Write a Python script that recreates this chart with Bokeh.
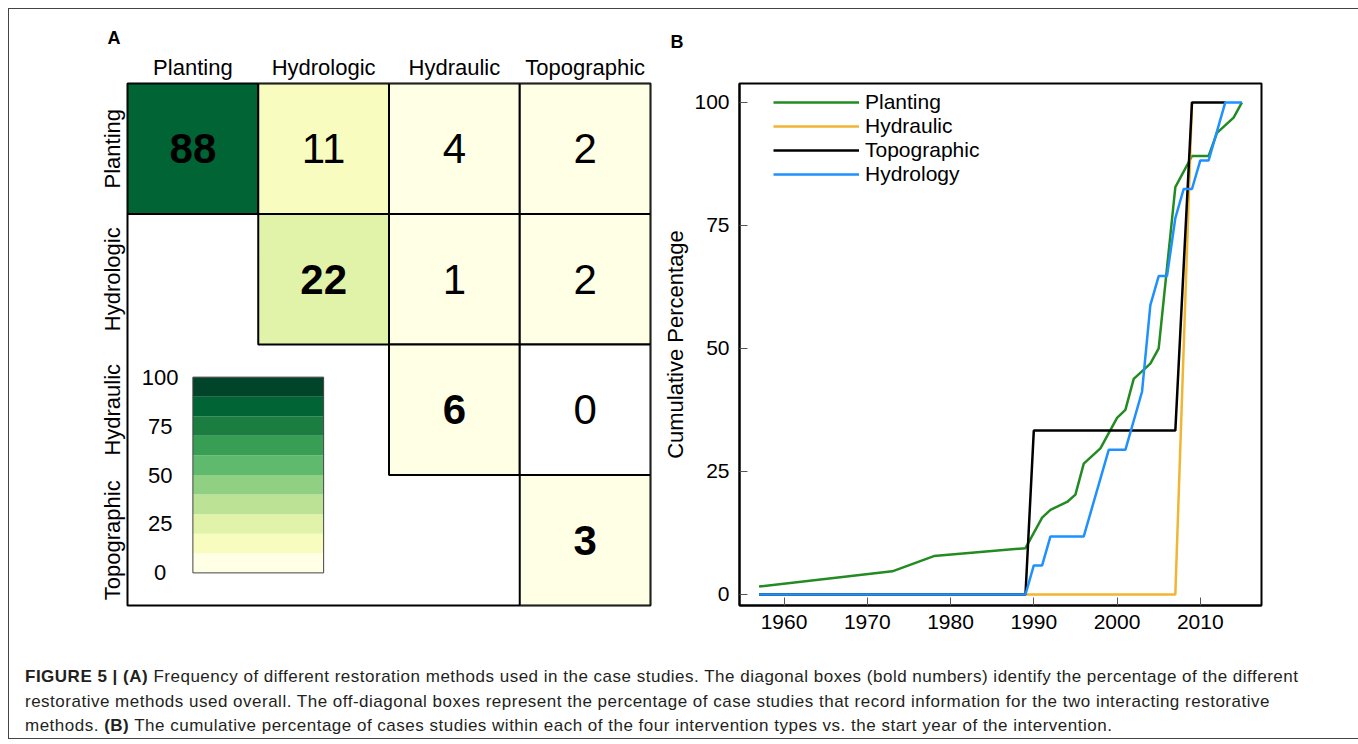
from bokeh.plotting import figure
from bokeh.models import (Range1d, FixedTicker, ColumnDataSource, LinearColorMapper, Div)
from bokeh.layouts import row, column
from bokeh.core.properties import value
from bokeh.embed import file_html
from bokeh.resources import INLINE

# ---------------- data ----------------
methods = ["Planting", "Hydrologic", "Hydraulic", "Topographic"]
cell_row = [0, 0, 0, 0, 1, 1, 1, 2, 2, 3]
cell_col = [0, 1, 2, 3, 1, 2, 3, 2, 3, 3]
cell_pct = [88, 11, 4, 2, 22, 1, 2, 6, 0, 3]

palette = ["#ffffe5", "#f8fcbe", "#e0f3a8", "#bce395", "#90d082",
           "#60ba6d", "#379e54", "#1b7e40", "#006435", "#004529"]
cbar_ticks = [0, 25, 50, 75, 100]

planting_year = [1957, 1973, 1978, 1989, 1991, 1992, 1994, 1995, 1996, 1998, 2000,
                 2001, 2002, 2004, 2005, 2007, 2009, 2011, 2012, 2014, 2015]
planting_pct = [1.6, 4.7, 7.8, 9.4, 15.6, 17.2, 18.8, 20.3, 26.6, 29.7, 35.9,
                37.5, 43.8, 46.9, 50.0, 82.8, 89.1, 89.1, 93.8, 96.9, 100]
hydraulic_year = [1957, 1989, 2007, 2009]
hydraulic_pct = [0, 0, 0, 100]
topographic_year = [1957, 1989, 1990, 2007, 2009, 2013]
topographic_pct = [0, 0, 33.3, 33.3, 100, 100]
hydrology_year = [1957, 1989, 1990, 1991, 1992, 1996, 1999, 2001, 2003, 2004, 2005,
                  2006, 2007, 2008, 2009, 2010, 2011, 2013, 2015]
hydrology_pct = [0, 0, 5.9, 5.9, 11.8, 11.8, 29.4, 29.4, 41.2, 58.8, 64.7,
                 64.7, 76.5, 82.4, 82.4, 88.2, 88.2, 100, 100]
year_ticks = [1960, 1970, 1980, 1990, 2000, 2010]
pct_ticks = [0, 25, 50, 75, 100]

FONT = "Liberation Sans"

# ---------------- panel A ----------------
pA = figure(frame_width=523, frame_height=522, min_border_left=118, min_border_right=10,
            min_border_top=74, min_border_bottom=36,
            x_range=Range1d(0, 4), y_range=Range1d(4, 0),
            x_axis_location="above", y_axis_location="left",
            output_backend="svg", toolbar_location=None, tools="")
pA.grid.visible = False
pA.outline_line_color = "black"
pA.outline_line_width = 2
centers = [i + 0.5 for i in range(len(methods))]
for ax in (pA.xaxis[0], pA.yaxis[0]):
    ax.ticker = FixedTicker(ticks=centers)
    ax.major_label_overrides = {c: m for c, m in zip(centers, methods)}
    ax.axis_line_color = None
    ax.major_tick_line_color = None
    ax.minor_tick_line_color = None
    ax.major_tick_in = 0
    ax.major_tick_out = 0
    ax.major_label_text_font = FONT
    ax.major_label_text_font_size = "22px"
    ax.major_label_text_color = "black"
pA.xaxis.major_label_standoff = 4
pA.yaxis.major_label_standoff = 3
pA.yaxis.major_label_orientation = "vertical"

pA.title.text = "A"
pA.title.text_font = FONT
pA.title.text_font_style = "bold"
pA.title.text_font_size = "18px"
pA.title.text_color = "black"
pA.title.align = "left"
pA.title.offset = -20
pA.title.standoff = 8

mapper = LinearColorMapper(palette=palette, low=0.5, high=100, low_color="white")
src = ColumnDataSource(dict(
    x=[c + 0.5 for c in cell_col],
    y=[r + 0.5 for r in cell_row],
    pct=cell_pct,
    label=[str(v) for v in cell_pct],
    style=["bold" if r == c else "normal" for r, c in zip(cell_row, cell_col)],
))
pA.rect("x", "y", 1, 1, source=src, fill_color={"field": "pct", "transform": mapper},
        line_color="black", line_width=2)
pA.text("x", "y", text="label", source=src, text_font=value(FONT), text_font_size="42px",
        text_font_style="style", text_align="center", text_baseline="middle",
        text_color="black")

# colour key
cb_left, cb_right, cb_bottom, cb_top = 0.5, 1.5, 3.75, 2.25


def vy(v):
    return cb_bottom + (cb_top - cb_bottom) * v / 100.0


n = len(palette)
edges = [i * 100.0 / n for i in range(n + 1)]
pA.quad(left=[cb_left] * n, right=[cb_right] * n,
        bottom=[vy(e) for e in edges[:-1]], top=[vy(e) for e in edges[1:]],
        fill_color=palette, line_color=None)
pA.quad(left=[cb_left], right=[cb_right], bottom=[vy(0)], top=[vy(100)],
        fill_color=None, line_color="#444444", line_width=1)
pA.text(x=[0.25] * len(cbar_ticks), y=[vy(t) for t in cbar_ticks],
        text=[str(t) for t in cbar_ticks], text_font=value(FONT), text_font_size="22px",
        text_align="center", text_baseline="middle", text_color="black")

# ---------------- panel B ----------------
pB = figure(frame_width=522, frame_height=522, min_border_left=72, min_border_right=97,
            min_border_top=74, min_border_bottom=36,
            x_range=Range1d(1954.65, 2017.35), y_range=Range1d(-2.24, 103.84),
            output_backend="svg", toolbar_location=None, tools="")
pB.grid.visible = False
pB.outline_line_color = "black"
pB.outline_line_width = 2
pB.xaxis.ticker = FixedTicker(ticks=year_ticks)
pB.yaxis.ticker = FixedTicker(ticks=pct_ticks)
for ax in (pB.xaxis[0], pB.yaxis[0]):
    ax.major_tick_in = 8
    ax.major_tick_out = 0
    ax.minor_tick_line_color = None
    ax.major_tick_line_color = "#555555"
    ax.axis_line_color = "black"
    ax.axis_line_width = 2
    ax.major_label_text_font = FONT
    ax.major_label_text_font_size = "21px"
    ax.major_label_text_color = "black"
pB.xaxis.major_label_standoff = 9
pB.yaxis.major_label_standoff = 10
pB.yaxis.axis_label = "Cumulative Percentage"
pB.yaxis.axis_label_text_font = FONT
pB.yaxis.axis_label_text_font_size = "22px"
pB.yaxis.axis_label_text_font_style = "normal"
pB.yaxis.axis_label_text_color = "black"
pB.yaxis.axis_label_standoff = 3

pB.title.text = "B\n "
pB.title.text_font = FONT
pB.title.text_font_style = "bold"
pB.title.text_font_size = "18px"
pB.title.text_color = "black"
pB.title.align = "left"
pB.title.offset = -69
pB.title.standoff = 23

pB.line(planting_year, planting_pct, line_color="#228B22", line_width=2.5, legend_label="Planting")
pB.line(hydraulic_year, hydraulic_pct, line_color="#F2B531", line_width=2.5, legend_label="Hydraulic")
pB.line(topographic_year, topographic_pct, line_color="black", line_width=2.5, legend_label="Topographic")
pB.line(hydrology_year, hydrology_pct, line_color="#1E90FF", line_width=2.5, legend_label="Hydrology")

leg = pB.legend[0]
leg.location = (34, 419)
leg.glyph_width = 86
leg.glyph_height = 24
leg.label_height = 24
leg.spacing = 0
leg.padding = 0
leg.margin = 0
leg.label_standoff = 6
leg.border_line_color = None
leg.background_fill_alpha = 0
leg.label_text_font = FONT
leg.label_text_font_size = "21px"
leg.label_text_color = "black"

# ---------------- caption ----------------
caption_html = (
    '<div style="font-family:\'Liberation Sans\',Arial,sans-serif;font-size:17px;'
    'letter-spacing:0.5px;line-height:24.5px;color:#231f20;padding:24px 0 0 16px;'
    'white-space:nowrap;">'
    '<b>FIGURE 5 | (A)</b> Frequency of different restoration methods used in the case studies. '
    'The diagonal boxes (bold numbers) identify the percentage of the different<br>'
    'restorative methods used overall. The off-diagonal boxes represent the percentage of case '
    'studies that record information for the two interacting restorative<br>'
    'methods. <b>(B)</b> The cumulative percentage of cases studies within each of the four '
    'intervention types vs. the start year of the intervention.</div>'
)
cap = Div(text=caption_html, width=1342, height=97, margin=0)

layout = column(row(pA, pB), cap, margin=(8, 0, 0, 8),
                styles={"border": "1px solid #444444"})

open("out.html", "w").write(file_html(layout, INLINE))
